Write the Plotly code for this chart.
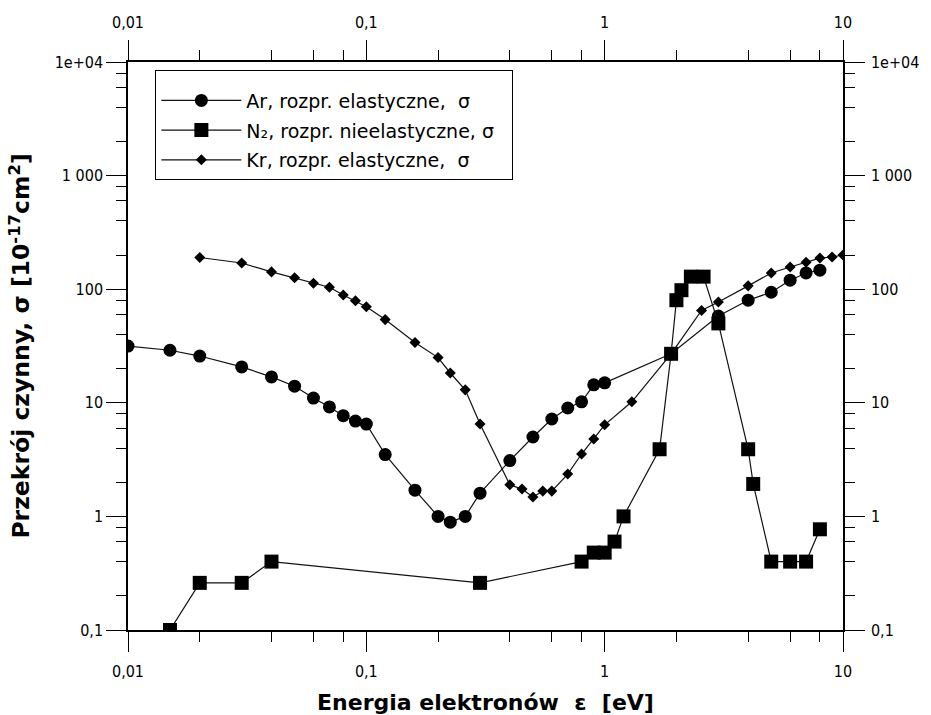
import plotly.graph_objects as go

# Ar, elastic scattering cross section
ar_energy = [0.01, 0.015, 0.02, 0.03, 0.04, 0.05, 0.06, 0.07, 0.08, 0.09, 0.1,
             0.12, 0.16, 0.2, 0.225, 0.26, 0.3, 0.4, 0.5, 0.6, 0.7, 0.8, 0.9,
             1.0, 1.9, 3.0, 4.0, 5.0, 6.0, 7.0, 8.0]
ar_sigma = [31.6, 29, 25.8, 20.7, 16.9, 14, 11, 9.2, 7.7, 6.9, 6.5,
            3.5, 1.7, 1.0, 0.89, 1.0, 1.6, 3.1, 5.0, 7.2, 9.0, 10.2, 14.4,
            15, 27, 58, 80, 94, 120, 139, 147]

# N2, inelastic scattering cross section
n2_energy = [0.015, 0.02, 0.03, 0.04, 0.3, 0.8, 0.9, 1.0, 1.1, 1.2, 1.7, 1.9,
             2.0, 2.1, 2.3, 2.6, 3.0, 4.0, 4.2, 5.0, 6.0, 7.0, 8.0]
n2_sigma = [0.1, 0.26, 0.26, 0.4, 0.26, 0.4, 0.48, 0.48, 0.6, 1.0, 3.9, 27,
            80, 98, 129, 129, 50, 3.9, 1.93, 0.4, 0.4, 0.4, 0.77]

# Kr, elastic scattering cross section
kr_energy = [0.02, 0.03, 0.04, 0.05, 0.06, 0.07, 0.08, 0.09, 0.1, 0.12, 0.16,
             0.2, 0.225, 0.26, 0.3, 0.4, 0.45, 0.5, 0.55, 0.6, 0.7, 0.8, 0.9,
             1.0, 1.3, 1.9, 2.55, 3.0, 4.0, 5.0, 6.0, 7.0, 8.0, 9.0, 10.0]
kr_sigma = [190, 170, 142, 126, 113, 104, 89, 79, 70, 54, 34,
            25, 18.3, 13, 6.5, 1.9, 1.74, 1.48, 1.67, 1.67, 2.36, 3.54, 4.8,
            6.4, 10.2, 27, 65, 77, 107, 139, 157, 173, 188, 192, 200]

x_major = [0.01, 0.1, 1, 10]
x_major_text = ["0,01", "0,1", "1", "10"]
y_major = [0.1, 1, 10, 100, 1000, 10000]
y_major_text = ["0,1", "1", "10", "100", "1 000", "1e+04"]

x_minor = [m * d for d in (0.01, 0.1, 1) for m in (2, 4, 6, 8)]
y_minor = [m * d for d in (0.1, 1, 10, 100, 1000) for m in (2, 4, 6, 8)]

X_RANGE = [-2, 1]
Y_RANGE = [-1, 4]

TICK_FONT = "DejaVu Sans Condensed, DejaVu Sans, sans-serif"
TEXT_FONT = "DejaVu Sans, sans-serif"
LINE = dict(color="#111111", width=1.2)

fig = go.Figure()
fig.add_trace(go.Scatter(
    x=ar_energy, y=ar_sigma, mode="lines+markers",
    name="Ar, rozpr. elastyczne,  σ", legendgroup="ar",
    line=LINE, marker=dict(symbol="circle", size=13, color="#000000"),
))
fig.add_trace(go.Scatter(
    x=n2_energy, y=n2_sigma, mode="lines+markers",
    name="N₂, rozpr. nieelastyczne, σ\u00a0\u00a0", legendgroup="n2",
    line=LINE, marker=dict(symbol="square", size=14, color="#000000"),
))
fig.add_trace(go.Scatter(
    x=kr_energy, y=kr_sigma, mode="lines+markers",
    name="Kr, rozpr. elastyczne,  σ", legendgroup="kr",
    line=LINE, marker=dict(symbol="diamond", size=8.5, color="#000000"),
))
# empty traces that bind the extra tick axes (top/right labels, minor ticks)
for xr, yr in (("x2", "y2"), ("x3", "y3"), ("x4", "y4")):
    fig.add_trace(go.Scatter(
        x=ar_energy, y=ar_sigma, mode="none", xaxis=xr, yaxis=yr,
        showlegend=False, hoverinfo="skip",
    ))


def major_axis(rng, vals, text, side, standoff):
    return dict(
        type="log", range=rng, side=side, automargin=False,
        tickmode="array", tickvals=vals, ticktext=text,
        ticks="outside", ticklen=20, tickwidth=1.3, tickcolor="#000",
        ticklabelstandoff=standoff,
        showline=True, linecolor="#000", linewidth=1.5,
        showgrid=False, zeroline=False,
        tickfont=dict(family=TICK_FONT, size=16, color="#000"),
    )


def minor_axis(rng, vals, side, over):
    return dict(
        type="log", range=rng, side=side, overlaying=over, automargin=False,
        tickmode="array", tickvals=vals, showticklabels=False,
        ticks="outside", ticklen=11, tickwidth=1.3, tickcolor="#000",
        showline=False, showgrid=False, zeroline=False,
    )


xa = major_axis(X_RANGE, x_major, x_major_text, "bottom", 6)
xa["title"] = dict(text="<b>Energia elektronów  ε  [eV]</b>",
                   font=dict(family=TEXT_FONT, size=22, color="#000"),
                   standoff=15)
xb = major_axis(X_RANGE, x_major, x_major_text, "top", 6)
xb["overlaying"] = "x"

ya = major_axis(Y_RANGE, y_major, y_major_text, "left", 0)
ya["title"] = dict(text="<b>Przekrój czynny, σ [10<sup>-17</sup>cm<sup>2</sup>]</b>",
                   font=dict(family=TEXT_FONT, size=23.5, color="#000"),
                   standoff=18)
yb = major_axis(Y_RANGE, y_major, y_major_text, "right", 3)
yb["overlaying"] = "y"

fig.update_layout(
    width=931, height=715,
    margin=dict(l=128, r=88, t=62, b=85),
    paper_bgcolor="#ffffff", plot_bgcolor="#ffffff",
    xaxis=xa, xaxis2=xb, yaxis=ya, yaxis2=yb,
    xaxis3=minor_axis(X_RANGE, x_minor, "bottom", "x"),
    xaxis4=minor_axis(X_RANGE, x_minor, "top", "x"),
    yaxis3=minor_axis(Y_RANGE, y_minor, "left", "y"),
    yaxis4=minor_axis(Y_RANGE, y_minor, "right", "y"),
    showlegend=True,
    legend=dict(
        x=0.038, y=0.986, xanchor="left", yanchor="top",
        bordercolor="#000", borderwidth=1.2, bgcolor="#ffffff",
        font=dict(family=TEXT_FONT, size=19, color="#000"),
        title=dict(text=" ", font=dict(size=8)),
        tracegroupgap=2, itemwidth=80,
    ),
)

fig.write_html("out.html")
